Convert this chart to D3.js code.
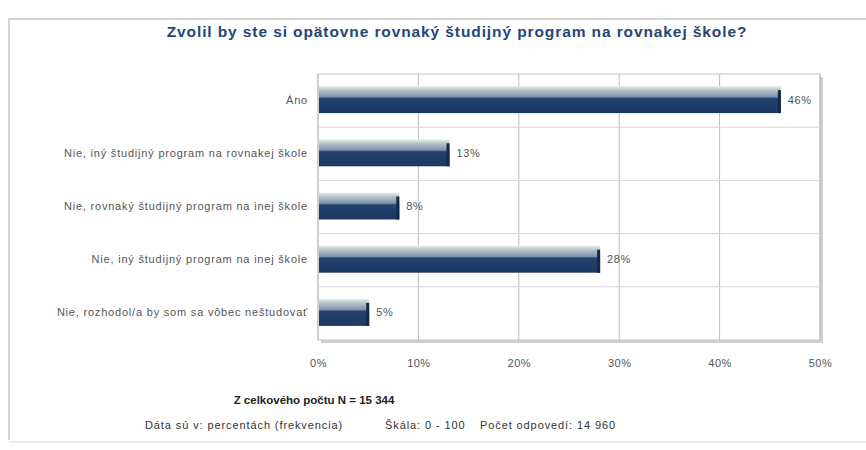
<!DOCTYPE html>
<html>
<head>
<meta charset="utf-8">
<script src="https://cdn.jsdelivr.net/npm/d3@7"></script>
<style>
  body { margin: 0; background: #ffffff; }
  svg { display: block; }
</style>
</head>
<body>
<script>
// data
var categories = [
  "Áno",
  "Nie, iný študijný program na rovnakej škole",
  "Nie, rovnaký študijný program na inej škole",
  "Nie, iný študijný program na inej škole",
  "Nie, rozhodol/a by som sa vôbec neštudovať"
];
var values = [46, 13, 8, 28, 5];
var valueLabels = ["46%", "13%", "8%", "28%", "5%"];
var tickValues = [0, 10, 20, 30, 40, 50];

// dimensions
var width = 866;
var height = 450;
var plot = { left: 318, right: 820, top: 74, bottom: 340 };
var font = "Liberation Sans, Arial, sans-serif";

var svg = d3.select("body")
  .append("svg")
  .attr("width", width)
  .attr("height", height);

// gradient for the bar look
var defs = svg.append("defs");
var grad = defs.append("linearGradient")
  .attr("id", "barGrad")
  .attr("x1", 0).attr("y1", 0).attr("x2", 0).attr("y2", 1);
grad.append("stop").attr("offset", "0%").attr("stop-color", "#e8eee6");
grad.append("stop").attr("offset", "15%").attr("stop-color", "#b9c3cf");
grad.append("stop").attr("offset", "40%").attr("stop-color", "#7f90a9");
grad.append("stop").attr("offset", "46%").attr("stop-color", "#24426f");
grad.append("stop").attr("offset", "100%").attr("stop-color", "#1b3863");

// outer frame
svg.append("path")
  .attr("d", "M9,440 L9,19 L866,19")
  .attr("fill", "none")
  .attr("stroke", "#c8c8c8")
  .attr("stroke-width", 1.5);
svg.append("line")
  .attr("x1", 9).attr("x2", 866)
  .attr("y1", 442).attr("y2", 442)
  .attr("stroke", "#ebebeb")
  .attr("stroke-width", 2);

// title
svg.append("text")
  .attr("x", 457)
  .attr("y", 37)
  .attr("text-anchor", "middle")
  .attr("font-family", font)
  .attr("font-weight", "bold")
  .attr("font-size", "15.5px")
  .attr("letter-spacing", "0.9px")
  .attr("fill", "#24457a")
  .text("Zvolil by ste si opätovne rovnaký študijný program na rovnakej škole?");

// scales
var x = d3.scaleLinear()
  .domain([0, 50])
  .range([plot.left, plot.right]);

var y = d3.scaleBand()
  .domain(categories)
  .range([plot.top, plot.bottom]);

// plot shadow
svg.append("rect")
  .attr("x", plot.left + 3)
  .attr("y", plot.top + 3)
  .attr("width", plot.right - plot.left)
  .attr("height", plot.bottom - plot.top)
  .attr("fill", "#cfcfcf");

svg.append("rect")
  .attr("x", plot.left)
  .attr("y", plot.top)
  .attr("width", plot.right - plot.left)
  .attr("height", plot.bottom - plot.top)
  .attr("fill", "#ffffff")
  .attr("stroke", "#c4c4c4");

// vertical gridlines
svg.append("g")
  .selectAll("line")
  .data(tickValues)
  .enter()
  .append("line")
  .attr("x1", function (d) { return x(d); })
  .attr("x2", function (d) { return x(d); })
  .attr("y1", plot.top)
  .attr("y2", plot.bottom)
  .attr("stroke", "#bdbdbd")
  .attr("stroke-width", 1);

// horizontal band separators
svg.append("g")
  .selectAll("line")
  .data(categories.slice(1))
  .enter()
  .append("line")
  .attr("x1", plot.left)
  .attr("x2", plot.right)
  .attr("y1", function (d) { return y(d); })
  .attr("y2", function (d) { return y(d); })
  .attr("stroke", "#ddd0dd")
  .attr("stroke-width", 1);

// bars
var barH = 27;
var rows = svg.append("g")
  .selectAll("g")
  .data(categories)
  .enter()
  .append("g");

rows.append("rect")
  .attr("x", x(0) + 1)
  .attr("y", function (d) { return y(d) + y.bandwidth() / 2 - barH / 2 - 1; })
  .attr("width", function (d, i) { return x(values[i]) - x(0); })
  .attr("height", barH)
  .attr("fill", "url(#barGrad)");

// dark end cap
rows.append("rect")
  .attr("x", function (d, i) { return x(values[i]) - 2; })
  .attr("y", function (d) { return y(d) + y.bandwidth() / 2 - barH / 2 + 3; })
  .attr("width", 3)
  .attr("height", barH - 4)
  .attr("fill", "#13294a");

// value labels
rows.append("text")
  .attr("x", function (d, i) { return x(values[i]) + 8; })
  .attr("y", function (d) { return y(d) + y.bandwidth() / 2 + 3; })
  .attr("font-family", font)
  .attr("font-size", "11px")
  .attr("letter-spacing", "0.6px")
  .attr("fill", "#555555")
  .text(function (d, i) { return valueLabels[i]; });

// category labels
rows.append("text")
  .attr("x", plot.left - 10)
  .attr("y", function (d) { return y(d) + y.bandwidth() / 2 + 3; })
  .attr("text-anchor", "end")
  .attr("font-family", font)
  .attr("font-size", "11px")
  .attr("letter-spacing", "0.8px")
  .attr("fill", "#555555")
  .text(function (d) { return d; });

// x axis
var xAxis = d3.axisBottom(x)
  .tickValues(tickValues)
  .tickSize(0)
  .tickFormat(function (d) { return d + "%"; });

var ax = svg.append("g")
  .attr("transform", "translate(0," + (plot.bottom + 16) + ")")
  .call(xAxis);
ax.select(".domain").remove();
ax.selectAll("text")
  .attr("font-family", font)
  .attr("font-size", "11px")
  .attr("letter-spacing", "0.5px")
  .attr("fill", "#555555");

// footer
svg.append("text")
  .attr("x", 314)
  .attr("y", 404)
  .attr("text-anchor", "middle")
  .attr("font-family", font)
  .attr("font-weight", "bold")
  .attr("font-size", "11.5px")
  .attr("fill", "#222222")
  .text("Z celkového počtu N = 15 344");

var footFont = function (sel) {
  sel.attr("font-family", font)
    .attr("font-size", "11px")
    .attr("letter-spacing", "0.9px")
    .attr("fill", "#333333")
    .attr("y", 429);
};

svg.append("text").attr("x", 145).call(footFont)
  .text("Dáta sú v: percentách  (frekvencia)");
svg.append("text").attr("x", 385).call(footFont)
  .text("Škála: 0 - 100");
svg.append("text").attr("x", 480).call(footFont)
  .text("Počet odpovedí:  14 960");
</script>
</body>
</html>
